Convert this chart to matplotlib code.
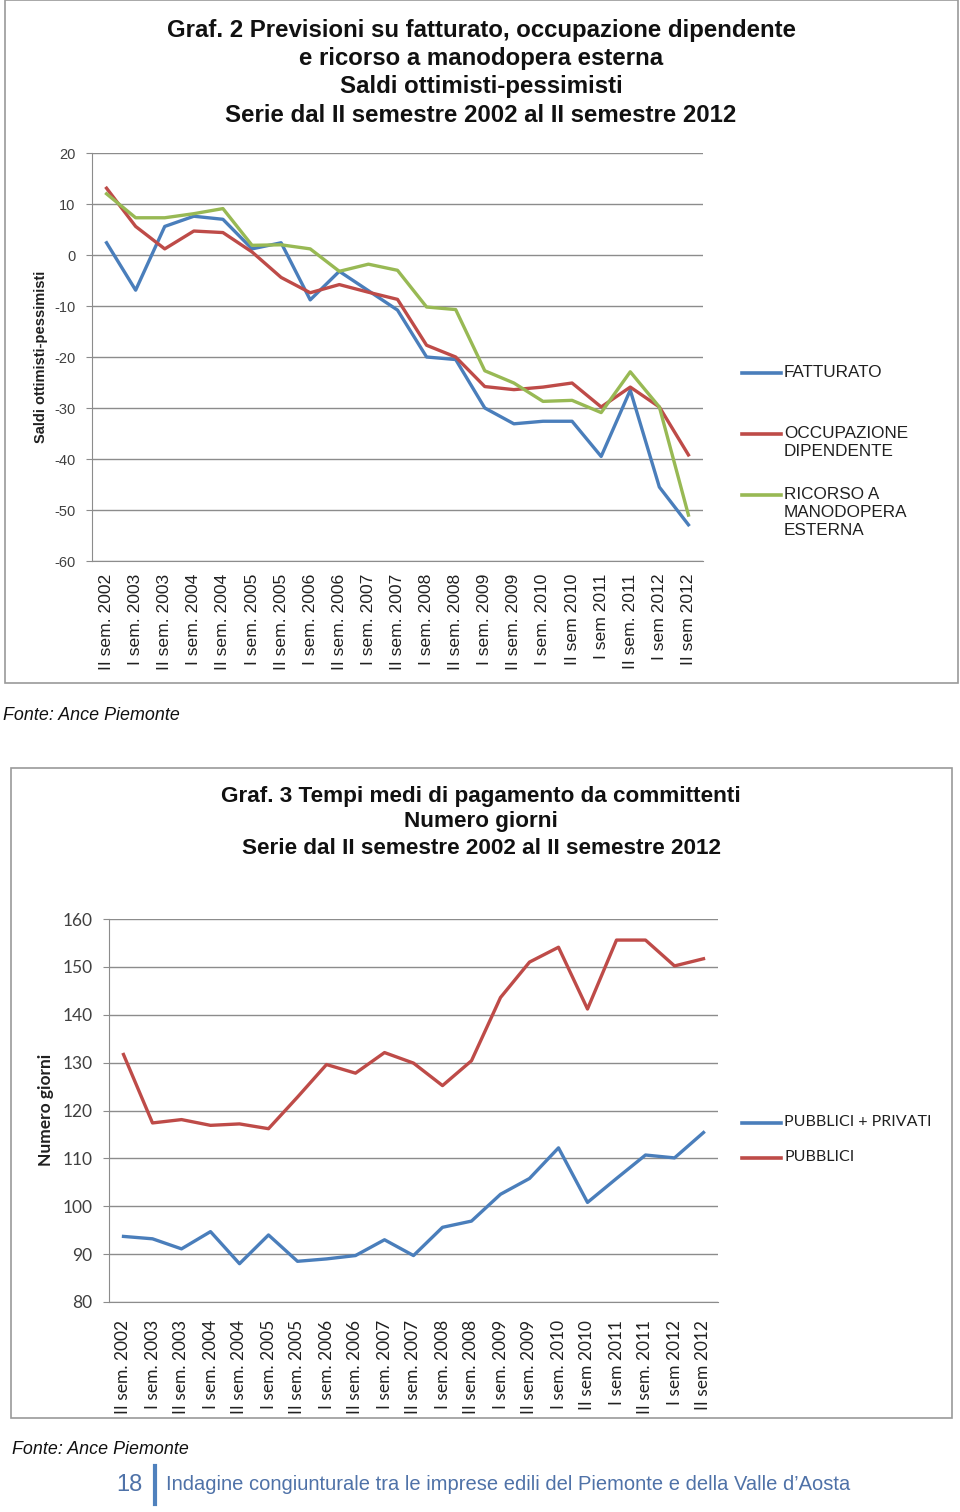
import matplotlib
matplotlib.use("Agg")
import matplotlib.pyplot as plt
from matplotlib.lines import Line2D
from matplotlib.patches import Rectangle

### Data

semestri = ["II sem. 2002", "I sem. 2003", "II sem. 2003", "I sem. 2004", "II sem. 2004",
            "I sem. 2005", "II sem. 2005", "I sem. 2006", "II sem. 2006", "I sem. 2007",
            "II sem. 2007", "I sem. 2008", "II sem. 2008", "I sem. 2009", "II sem. 2009",
            "I sem. 2010", "II sem 2010", "I sem 2011", "II sem. 2011", "I sem 2012", "II sem 2012"]

# Graf. 2 - saldi ottimisti-pessimisti
fatturato = [2.4, -6.9, 5.6, 7.6, 7.0, 1.2, 2.4, -8.8, -3.2, -7.0, -10.8, -20.0, -20.5,
             -30.0, -33.1, -32.6, -32.6, -39.5, -26.5, -45.5, -52.9]
occupazione = [13.1, 5.6, 1.2, 4.7, 4.4, 0.6, -4.4, -7.4, -5.8, -7.3, -8.7, -17.7, -20.0,
               -25.8, -26.4, -25.9, -25.1, -29.8, -25.9, -29.8, -39.2]
ricorso = [12.0, 7.3, 7.3, 8.1, 9.1, 1.9, 2.0, 1.2, -3.2, -1.8, -3.0, -10.2, -10.7,
           -22.7, -25.1, -28.7, -28.5, -30.9, -22.9, -29.8, -51.0]
nomi_graf2 = ["FATTURATO", "OCCUPAZIONE\nDIPENDENTE", "RICORSO A\nMANODOPERA\nESTERNA"]

# Graf. 3 - tempi medi di pagamento (giorni)
pubblici_privati = [93.7, 93.2, 91.1, 94.7, 88.0, 94.0, 88.5, 89.0, 89.7, 93.0, 89.7,
                    95.6, 96.9, 102.5, 105.8, 112.2, 100.8, 105.8, 110.7, 110.1, 115.4]
pubblici = [131.7, 117.4, 118.1, 116.9, 117.2, 116.2, 122.8, 129.6, 127.8, 132.1, 129.9,
            125.2, 130.4, 143.6, 151.0, 154.1, 141.2, 155.6, 155.6, 150.2, 151.7]
nomi_graf3 = ["PUBBLICI + PRIVATI", "PUBBLICI"]

titolo2 = ["Graf. 2 Previsioni su fatturato, occupazione dipendente",
           "e ricorso a manodopera esterna",
           "Saldi ottimisti-pessimisti",
           "Serie dal II semestre 2002 al II semestre 2012"]
titolo3 = ["Graf. 3 Tempi medi di pagamento da committenti",
           "Numero giorni",
           "Serie dal II semestre 2002 al II semestre 2012"]

### Style

plt.rcParams["axes.unicode_minus"] = False

W, H = 960, 1512
BLUE, RED, GREEN = "#4a7ebb", "#be4b48", "#98b954"
GRID = "#8c8c8c"
ARIAL = ["Liberation Sans", "DejaVu Sans"]
NARROW = ["Liberation Sans Narrow", "Liberation Sans", "DejaVu Sans"]
CALIBRI = ["Lato", "DejaVu Sans"]


def fx(x):
    return x / W


def fy(y):
    return 1 - y / H


def axes_px(fig, left, top, right, bottom):
    return fig.add_axes([fx(left), fy(bottom), (right - left) / W, (bottom - top) / H])


def style_axes(ax, font, ticksize, xsize):
    ax.set_xlim(-0.5, len(semestri) - 0.5)
    ax.set_xticks(range(len(semestri)))
    ax.set_xticklabels(semestri, rotation=90, family=font, fontsize=xsize, color="#202020")
    ax.tick_params(axis="x", length=0, pad=9)
    ax.tick_params(axis="y", length=4, color=GRID, pad=8, labelsize=ticksize, labelcolor="#404040")
    for lab in ax.get_yticklabels():
        lab.set_family(font)
    ax.grid(axis="y", color=GRID, lw=1)
    ax.set_axisbelow(True)
    for s in ["top", "right"]:
        ax.spines[s].set_visible(False)
    ax.spines["left"].set_color(GRID)
    ax.spines["bottom"].set_color(GRID)


def legend_px(fig, entries, font, size):
    for name, color, y in entries:
        fig.add_artist(Line2D([fx(742), fx(781)], [fy(y), fy(y)], color=color, lw=2.6,
                              transform=fig.transFigure))
        fig.text(fx(784), fy(y - 8), name, family=font, fontsize=size, color="#202020",
                 va="top", ha="left", linespacing=1.25)


fig = plt.figure(figsize=(W / 100, H / 100), dpi=100)

# frames
fig.add_artist(Rectangle((fx(5), fy(683)), (958 - 5) / W, 683 / H, fill=False,
                         ec="#9a9a9a", lw=1.2, transform=fig.transFigure))
fig.add_artist(Rectangle((fx(11), fy(1418)), (952 - 11) / W, (1418 - 768) / H, fill=False,
                         ec="#9a9a9a", lw=1.2, transform=fig.transFigure))

### Graf. 2

for i, line in enumerate(titolo2):
    fig.text(fx(481), fy(31 + 28 * i), line, family=NARROW, fontweight="bold", fontsize=17.3,
             ha="center", va="center", color="#111111")

ax1 = axes_px(fig, 92, 153, 703, 561)
x = range(len(semestri))
ax1.plot(x, fatturato, color=BLUE, lw=2.4, solid_joinstyle="round")
ax1.plot(x, occupazione, color=RED, lw=2.4, solid_joinstyle="round")
ax1.plot(x, ricorso, color=GREEN, lw=2.4, solid_joinstyle="round")
ax1.set_ylim(-60, 20)
ax1.set_yticks(range(-60, 21, 10))
style_axes(ax1, ARIAL, 10.5, 12.6)
fig.text(fx(41), fy(357), "Saldi ottimisti-pessimisti", family=ARIAL, fontweight="bold",
         fontsize=10.5, rotation=90, ha="center", va="center", color="#202020")

legend_px(fig, [(nomi_graf2[0], BLUE, 373), (nomi_graf2[1], RED, 434),
                (nomi_graf2[2], GREEN, 495)], ARIAL, 12.3)

fig.text(fx(3), fy(715), "Fonte: Ance Piemonte", family=ARIAL, style="italic", fontsize=12.9,
         ha="left", va="center", color="#111111")

### Graf. 3

for i, line in enumerate(titolo3):
    fig.text(fx(481), fy(796 + 26 * i), line, family=ARIAL, fontweight="bold", fontsize=16.2,
             ha="center", va="center", color="#111111")

ax2 = axes_px(fig, 109, 919, 718, 1302)
ax2.plot(x, pubblici_privati, color=BLUE, lw=2.4, solid_joinstyle="round")
ax2.plot(x, pubblici, color=RED, lw=2.4, solid_joinstyle="round")
ax2.set_ylim(80, 160)
ax2.set_yticks(range(80, 161, 10))
style_axes(ax2, CALIBRI, 12.5, 12.5)
ax2.tick_params(axis="x", pad=13)
fig.text(fx(46), fy(1110), "Numero giorni", family=CALIBRI, fontweight="bold",
         fontsize=12.5, rotation=90, ha="center", va="center", color="#202020")

legend_px(fig, [(nomi_graf3[0], BLUE, 1123), (nomi_graf3[1], RED, 1158)], CALIBRI, 11.5)

fig.text(fx(12), fy(1450), "Fonte: Ance Piemonte", family=ARIAL, style="italic", fontsize=12.9,
         ha="left", va="center", color="#111111")

### footer
fig.text(fx(142), fy(1485), "18", family=ARIAL, fontsize=17, ha="right", va="center",
         color="#4f72a8")
fig.add_artist(Line2D([fx(155), fx(155)], [fy(1466), fy(1504)], color="#4f81bd", lw=3,
                      transform=fig.transFigure))
fig.text(fx(166), fy(1484), "Indagine congiunturale tra le imprese edili del Piemonte e della Valle d\u2019Aosta",
         family=ARIAL, fontsize=14.5, ha="left", va="center", color="#4f72a8")

fig.savefig("out.png", dpi=100, facecolor="white")
